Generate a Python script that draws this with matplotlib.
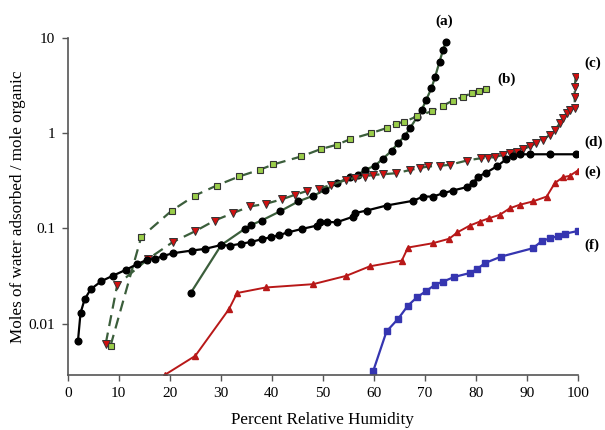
import matplotlib
matplotlib.use('Agg')
import matplotlib.pyplot as plt

plt.rcParams['font.family'] = ['Liberation Serif', 'DejaVu Serif']

# (a) black circles, dark green solid line
a_x = [24.1, 30.1, 34.7, 36.0, 38.0, 41.6, 45.2, 48.1, 50.5, 52.7, 55.3, 56.9, 58.2,
       60.2, 61.8, 63.5, 64.8, 66.1, 67.1, 68.5, 69.4, 70.3, 71.3, 72.0, 72.9, 73.6, 74.1]
a_y = [0.021, 0.067, 0.099, 0.109, 0.121, 0.151, 0.192, 0.22, 0.254, 0.298, 0.345, 0.365, 0.41,
       0.454, 0.54, 0.652, 0.79, 0.937, 1.13, 1.47, 1.75, 2.25, 2.95, 3.85, 5.64, 7.5, 9.0]

# (b) green squares, dashed line
b_x = [8.4, 14.4, 20.4, 24.9, 29.2, 33.6, 37.6, 40.3, 45.8, 49.6, 52.7, 55.3, 59.5, 62.5,
       64.3, 66.0, 68.5, 71.5, 73.6, 75.5, 77.5, 79.2, 80.7, 82.0]
b_y = [0.0059, 0.081, 0.154, 0.221, 0.282, 0.351, 0.412, 0.469, 0.57, 0.68, 0.754, 0.86, 1.0, 1.13,
       1.25, 1.32, 1.5, 1.71, 1.94, 2.2, 2.4, 2.63, 2.79, 2.9]

# (c) red down triangles, dashed line
c_x = [7.45, 9.7, 15.7, 20.6, 24.9, 28.8, 32.4, 35.7, 38.8, 42.1, 44.5, 47.0, 49.3, 51.7, 54.6,
       56.3, 58.2, 59.9, 61.8, 64.4, 67.1, 69.0, 70.7, 72.9, 74.9, 78.2, 81.1, 82.4, 83.7, 85.4,
       86.7, 88.0, 89.3, 90.6, 91.9, 93.2, 94.5, 95.5, 96.5, 97.1, 97.8, 98.4, 99.4, 99.4, 99.4, 99.6]
c_y = [0.0062, 0.0256, 0.0476, 0.072, 0.093, 0.121, 0.145, 0.17, 0.181, 0.203, 0.225, 0.248, 0.262,
       0.287, 0.323, 0.34, 0.35, 0.365, 0.37, 0.38, 0.41, 0.43, 0.447, 0.454, 0.465, 0.515, 0.547,
       0.55, 0.56, 0.592, 0.617, 0.641, 0.68, 0.725, 0.786, 0.851, 0.96, 1.08, 1.27, 1.44, 1.62,
       1.75, 1.83, 2.42, 3.08, 3.87]

# (d) black circles, black solid line
d_x = [2.0, 2.5, 3.3, 4.5, 6.6, 8.9, 11.5, 13.5, 15.6, 17.2, 18.7, 20.7, 24.3, 26.9, 30.1, 31.8,
       33.9, 35.9, 38.0, 39.9, 41.4, 43.2, 46.0, 48.8, 49.4, 50.9, 52.7, 56.0, 56.3, 58.6, 62.5,
       67.7, 69.7, 71.6, 73.6, 75.5, 78.2, 79.5, 80.5, 82.1, 84.1, 86.0, 87.3, 88.6, 90.6, 94.5, 99.7]
d_y = [0.0066, 0.0129, 0.018, 0.023, 0.028, 0.032, 0.037, 0.042, 0.047, 0.048, 0.0515, 0.055, 0.0586,
       0.061, 0.067, 0.066, 0.069, 0.072, 0.077, 0.081, 0.085, 0.091, 0.099, 0.107, 0.116, 0.117,
       0.116, 0.133, 0.145, 0.154, 0.174, 0.195, 0.216, 0.216, 0.234, 0.25, 0.271, 0.303, 0.35,
       0.386, 0.447, 0.533, 0.578, 0.60, 0.60, 0.60, 0.60]

# (e) red triangles, red solid line
e_x = [19.0, 25.0, 31.6, 33.2, 38.8, 48.1, 54.6, 59.2, 65.5, 66.7, 71.6, 74.8, 76.4, 78.8, 80.8,
       82.6, 84.7, 86.7, 88.6, 91.2, 93.9, 95.5, 97.1, 98.4, 100.0]
e_y = [0.0029, 0.0046, 0.0142, 0.021, 0.024, 0.026, 0.0318, 0.040, 0.046, 0.063, 0.070, 0.078,
       0.091, 0.107, 0.118, 0.128, 0.139, 0.163, 0.177, 0.192, 0.216, 0.299, 0.345, 0.356, 0.405]

# (f) blue squares, blue solid line
f_x = [59.9, 62.5, 64.8, 66.7, 68.5, 70.3, 72.1, 73.6, 75.8, 78.8, 80.3, 81.8, 85.0, 91.2, 93.0,
       94.6, 96.1, 97.5, 100.0]
f_y = [0.0032, 0.0083, 0.0113, 0.0155, 0.019, 0.0221, 0.0258, 0.0277, 0.031, 0.034, 0.0376, 0.0433,
       0.0507, 0.062, 0.074, 0.079, 0.083, 0.088, 0.094]

labels = ['(a)', '(b)', '(c)', '(d)', '(e)', '(f)']
label_x = [73.9, 84.3, 101.2, 101.2, 101.2, 101.2]
label_y = [15.1, 3.7, 5.4, 0.80, 0.39, 0.066]
label_ha = ['center', 'left', 'left', 'left', 'left', 'left']

fig = plt.figure(figsize=(6.05, 4.3), dpi=100)
ax = fig.add_axes([0.112, 0.128, 0.843, 0.784])

ax.plot(a_x, a_y, '-', color='#3b5e3b', lw=1.6, marker='o', ms=4.8, mfc='black', mec='black')
ax.plot(b_x, b_y, '--', color='#3b5e3b', lw=1.6, dashes=(5, 3), marker='s', ms=4.8,
        mfc='#9acd4a', mec='#333333', mew=0.8)
ax.plot(c_x, c_y, '--', color='#3b5e3b', lw=1.6, dashes=(5, 3), marker='v', ms=5.2,
        mfc='#d01010', mec='#333333', mew=0.7)
ax.plot(d_x, d_y, '-', color='black', lw=1.6, marker='o', ms=4.8, mfc='black', mec='black')
ax.plot(e_x, e_y, '-', color='#b81818', lw=1.4, marker='^', ms=4, mfc='#b81818', mec='#b81818')
ax.plot(f_x, f_y, '-', color='#3535b0', lw=1.6, marker='s', ms=4, mfc='#3535b0', mec='#3535b0')

for t, x, y, ha in zip(labels, label_x, label_y, label_ha):
    ax.text(x, y, t, fontsize=11, fontweight='bold', ha=ha, va='center', clip_on=False)

ax.set_yscale('log')
ax.set_xlim(0, 100)
ax.set_ylim(0.0029, 10)
ax.set_xticks(range(0, 101, 10))
ax.set_yticks([0.01, 0.1, 1, 10])
ax.set_yticklabels(['0.01', '0.1', '1', '10'])
ax.minorticks_off()
ax.tick_params(direction='out', length=4, width=1, color='#555555', labelsize=11, pad=5)

for side in ['top', 'right']:
    ax.spines[side].set_visible(False)
for side in ['left', 'bottom']:
    ax.spines[side].set_color('#555555')
    ax.spines[side].set_linewidth(1.2)

ax.set_xlabel('Percent Relative Humidity', fontsize=12.3, labelpad=8)
ax.set_ylabel('Moles of water adsorbed / mole organic', fontsize=12.3, labelpad=2)

fig.savefig('out.png', dpi=100)
